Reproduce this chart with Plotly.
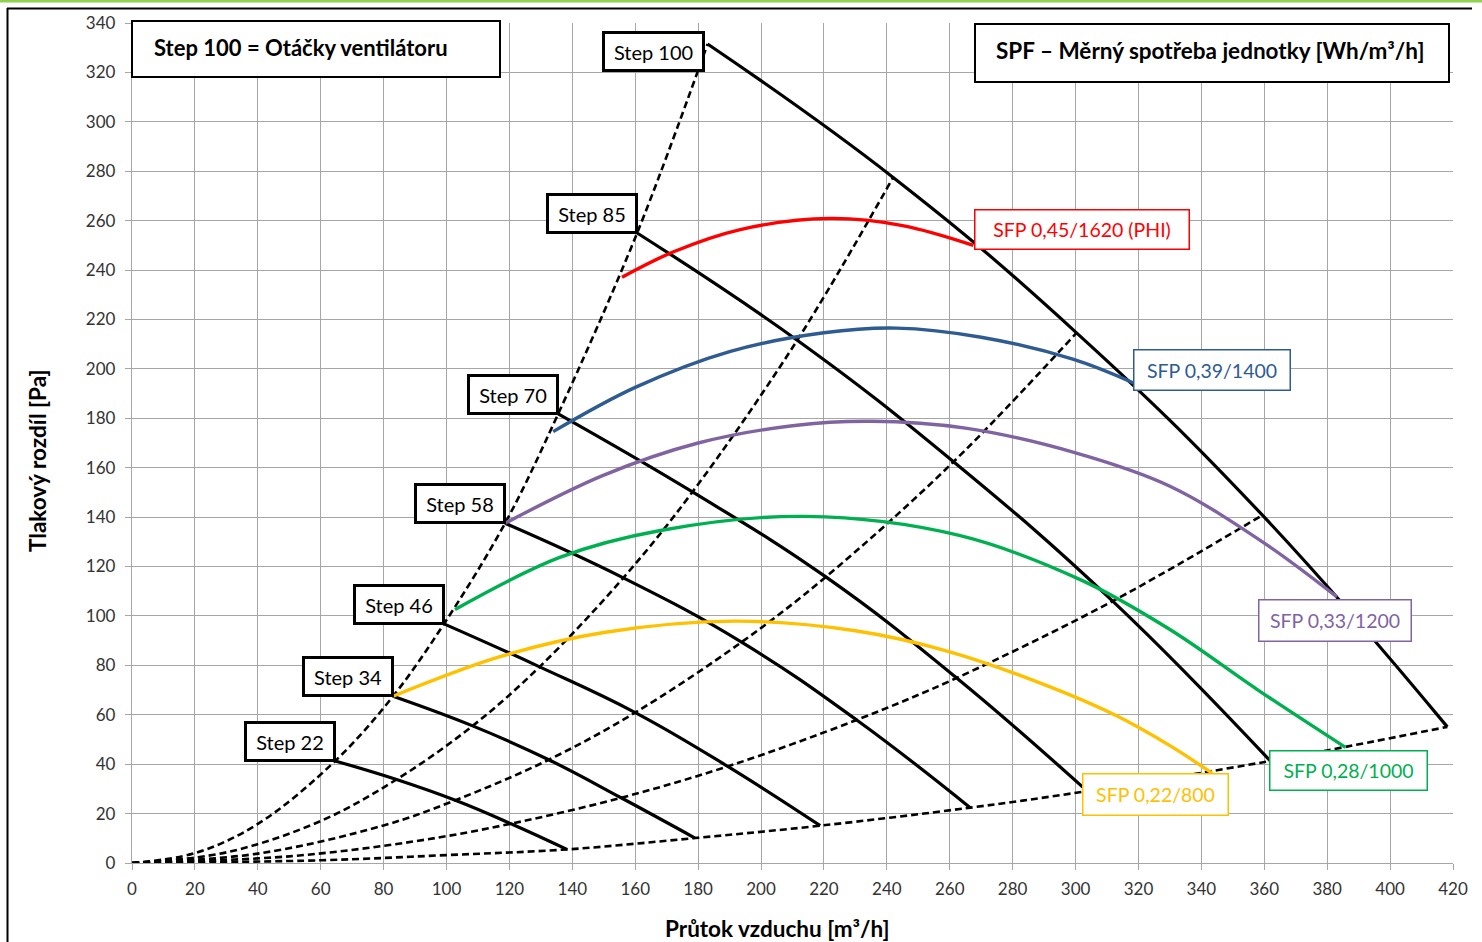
import plotly.graph_objects as go

# ---------------- data ----------------
# Fan curves: 5 operating points each (flow Q [m3/h], pressure p [Pa])
step_names = ["Step 22", "Step 34", "Step 46", "Step 58", "Step 70", "Step 85", "Step 100"]
q_step22 = [64.6, 84.1, 102.8, 120.5, 138.3]
p_step22 = [41.3, 33.8, 25.4, 15.9, 5.5]
q_step34 = [83.0, 108.3, 132.5, 155.5, 179.0]
p_step34 = [67.5, 55.5, 41.8, 26.4, 10.1]
q_step46 = [99.2, 129.6, 160.0, 189.4, 218.8]
p_step46 = [96.8, 79.4, 60.9, 39.1, 15.1]
q_step58 = [118.6, 156.2, 193.8, 230.4, 266.5]
p_step58 = [137.5, 115.4, 89.4, 57.9, 22.4]
q_step70 = [135.5, 178.2, 220.6, 262.2, 303.7]
p_step70 = [181.8, 150.2, 115.8, 74.9, 29.1]
q_step85 = [160.6, 211.5, 261.2, 311.8, 361.9]
p_step85 = [255.0, 211.6, 162.4, 106.0, 41.3]
q_step100 = [183.0, 242.0, 300.3, 359.4, 418.2]
p_step100 = [331.5, 277.5, 214.6, 140.8, 55.1]

# System curves (dashed) near the origin
sys_low_q = [[20, 40], [30, 60], [40, 80], [50, 90], [60, 100]]
sys_low_p = [[4.0, 15.8], [4.3, 17.0], [3.8, 15.2], [2.7, 8.8], [1.1, 3.2]]

# SFP iso-lines
sfp_labels = ["SFP 0,45/1620 (PHI)", "SFP 0,39/1400", "SFP 0,33/1200", "SFP 0,28/1000", "SFP 0,22/800"]
q_sfp045 = [155.8, 172.0, 193.4, 222.0, 245.0, 267.5]
p_sfp045 = [237.1, 247.3, 256.4, 260.9, 258.0, 250.0]
q_sfp039 = [133.9, 160.0, 190.0, 220.0, 243.0, 270.0, 299.4, 318.4]
p_sfp039 = [174.6, 192.5, 207.0, 214.6, 216.5, 212.8, 203.8, 194.3]
q_sfp033 = [118.6, 150.0, 180.0, 210.0, 235.0, 265.0, 300.0, 330.0, 360.0, 383.1]
p_sfp033 = [137.5, 157.0, 170.0, 177.0, 178.8, 176.0, 166.0, 152.5, 129.5, 107.7]
q_sfp028 = [102.7, 136.0, 168.0, 214.0, 263.0, 302.0, 330.0, 358.0, 385.8]
p_sfp028 = [102.6, 123.7, 134.6, 140.3, 132.6, 114.4, 94.5, 70.0, 46.8]
q_sfp022 = [83.0, 117.0, 150.0, 191.8, 230.0, 260.0, 291.9, 313.2, 330.0, 343.5]
p_sfp022 = [67.5, 83.5, 93.3, 97.9, 94.0, 85.5, 71.3, 59.5, 47.5, 36.3]
sfp_colors = ["#FF0000", "#2E5B92", "#8064A2", "#00B050", "#FFC000"]

x_ticks = list(range(0, 421, 20))
y_ticks = list(range(0, 341, 20))

# ---------------- figure ----------------
W, H = 1482, 942
ML, MR, MT, MB = 132, 29, 23, 79
PW, PH = W - ML - MR, H - MT - MB


def px(xp):
    return (xp - ML) / PW


def py(yp):
    return (H - MB - yp) / PH


FONT = "Lato"
fig = go.Figure()

steps_q = [q_step22, q_step34, q_step46, q_step58, q_step70, q_step85, q_step100]
steps_p = [p_step22, p_step34, p_step46, p_step58, p_step70, p_step85, p_step100]

# dashed system curves through origin and the i-th point of each fan curve
for i in range(5):
    xs = [0] + sys_low_q[i] + [sq[i] for sq in steps_q]
    ys = [0] + sys_low_p[i] + [sp[i] for sp in steps_p]
    fig.add_trace(go.Scatter(x=xs, y=ys, mode="lines",
                             line=dict(color="black", width=2.6, dash="7px,4px", shape="spline", smoothing=1.0),
                             hoverinfo="skip", showlegend=False))

for sq, sp in zip(steps_q, steps_p):
    fig.add_trace(go.Scatter(x=sq, y=sp, mode="lines",
                             line=dict(color="black", width=3.2, shape="spline", smoothing=1.2),
                             showlegend=False))

sfp_q = [q_sfp045, q_sfp039, q_sfp033, q_sfp028, q_sfp022]
sfp_p = [p_sfp045, p_sfp039, p_sfp033, p_sfp028, p_sfp022]
for sq, sp, c in zip(sfp_q, sfp_p, sfp_colors):
    fig.add_trace(go.Scatter(x=sq, y=sp, mode="lines",
                             line=dict(color=c, width=3.4, shape="spline", smoothing=1.0),
                             showlegend=False))

annotations = []
# step labels: box bottom-right corner at the first point of each fan curve
for name, sq, sp in zip(step_names, steps_q, steps_p):
    big = name == "Step 100"
    annotations.append(dict(
        x=sq[0], y=sp[0], xref="x", yref="y", text=name, showarrow=False,
        xanchor="right", yanchor="middle" if big else "bottom",
        xshift=-3 if big else 1, yshift=-7 if big else -1,
        width=97 if big else 86, height=35, borderpad=0,
        bordercolor="black", borderwidth=3, bgcolor="white",
        font=dict(family=FONT, size=20, color="black")))

# SFP label boxes (pixel centre, size)
sfp_boxes = [(1082, 229.5, 216, 41), (1211.7, 370, 158, 42), (1335.3, 620.7, 154, 43),
             (1348.3, 770.5, 159, 41), (1155, 794.7, 147, 43)]
for lab, c, (cx, cy, bw, bh) in zip(sfp_labels, sfp_colors, sfp_boxes):
    annotations.append(dict(
        x=px(cx), y=py(cy), xref="paper", yref="paper", text=lab, showarrow=False,
        xanchor="center", yanchor="middle", width=bw - 3, height=bh - 3, borderpad=0,
        bordercolor=c, borderwidth=1.5, bgcolor="white",
        font=dict(family=FONT, size=19.5, color=c)))

shapes = []
# title boxes
for (x0, y0, x1, y1) in [(132, 21, 500, 77), (975, 24, 1449, 82)]:
    shapes.append(dict(type="rect", xref="paper", yref="paper",
                       x0=px(x0), x1=px(x1), y0=py(y1), y1=py(y0),
                       line=dict(color="black", width=2), fillcolor="white", layer="above"))
annotations.append(dict(x=px(152), y=py(47), xref="paper", yref="paper", showarrow=False,
                        text="<b>Step 100 = Otáčky ventilátoru</b>", xanchor="left", yanchor="middle",
                        font=dict(family=FONT, size=22, color="black")))
annotations.append(dict(x=px(994), y=py(50), xref="paper", yref="paper", showarrow=False,
                        text="<b>SPF – Měrný spotřeba jednotky [Wh/m³/h]</b>", xanchor="left", yanchor="middle",
                        font=dict(family=FONT, size=22.5, color="black")))

# axis titles
annotations.append(dict(x=px(777), y=py(928), xref="paper", yref="paper", showarrow=False,
                        text="<b>Průtok vzduchu [m³/h]</b>", xanchor="center", yanchor="middle",
                        font=dict(family=FONT, size=22.5, color="black")))
annotations.append(dict(x=px(38), y=py(461), xref="paper", yref="paper", showarrow=False,
                        text="<b>Tlakový rozdíl [Pa]</b>", textangle=-90, xanchor="center", yanchor="middle",
                        font=dict(family=FONT, size=22.5, color="black")))

# outer frame
shapes.append(dict(type="line", xref="paper", yref="paper", x0=px(0), x1=px(W), y0=py(1), y1=py(1),
                   line=dict(color="#92D050", width=3)))
shapes.append(dict(type="line", xref="paper", yref="paper", x0=px(7), x1=px(1472), y0=py(8.5), y1=py(8.5),
                   line=dict(color="black", width=2)))
shapes.append(dict(type="line", xref="paper", yref="paper", x0=px(7.5), x1=px(7.5), y0=py(8), y1=py(950),
                   line=dict(color="black", width=2)))

axis_common = dict(showgrid=True, gridcolor="#A6A6A6", gridwidth=1.3, showline=True,
                   linecolor="#A6A6A6", linewidth=1.3, ticks="outside", ticklen=6,
                   tickcolor="#A6A6A6", tickwidth=1.3, zeroline=False,
                   tickfont=dict(family=FONT, size=17, color="#333333"))
fig.update_xaxes(range=[0, 420], tickvals=x_ticks, ticklabelstandoff=4, **axis_common)
fig.update_yaxes(range=[0, 340], tickvals=y_ticks, ticklabelstandoff=6, **axis_common)

fig.update_layout(width=W, height=H, margin=dict(l=ML, r=MR, t=MT, b=MB),
                  paper_bgcolor="white", plot_bgcolor="white",
                  annotations=annotations, shapes=shapes, showlegend=False)

fig.write_html("out.html", config={"displayModeBar": False},
               post_script="document.body.style.margin='0';document.body.style.overflow='hidden';")
